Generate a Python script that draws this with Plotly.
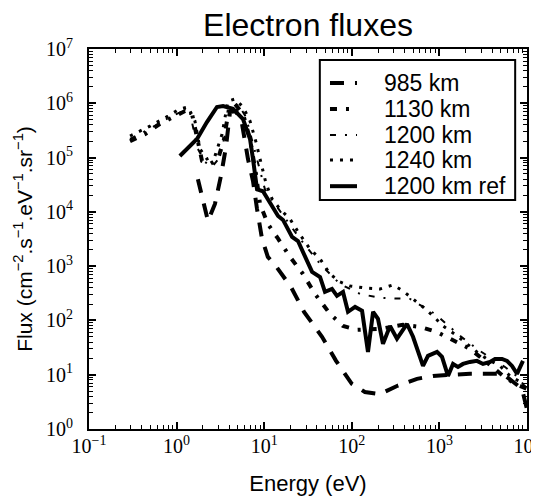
import plotly.graph_objects as go

# energies (eV) and fluxes for each altitude
e_985 = [1.75, 2.00, 2.28, 2.74, 3.21, 3.66, 4.07, 4.76, 5.58, 6.53, 7.45, 8.28, 9.44, 11.0, 13.3,
         20.2, 28.5, 45.7, 66.1, 100, 141, 210, 328, 555, 845, 2233, 5322, 6918, 8770, 10000]
f_985 = [4.0e4, 1.73e4, 6.8e3, 1.4e4, 4.6e4, 1.57e5, 6.9e5, 7.2e5, 4.2e5, 9.4e4, 3.7e4, 1.13e4, 3.2e3, 1.48e3, 1.05e3,
         414, 144, 50, 18.0, 6.8, 4.8, 4.4, 6.2, 8.4, 9.5, 10.4, 10.4, 7.4, 5.5, 2.3]

e_1130 = [0.294, 0.435, 0.647, 0.959, 1.25, 1.50, 1.75, 1.95, 2.40, 2.97, 3.48, 3.96, 4.64, 5.73, 6.89, 8.05, 8.95,
          11.0, 14.4, 19.7, 27.7, 38.0, 56.4, 79.4, 115, 210, 384, 601, 940, 1507, 2233, 3317, 5322, 7295, 10000]
f_1130 = [2.0e5, 2.7e5, 4.2e5, 5.8e5, 7.2e5, 6.35e5, 2.2e5, 8.7e4, 7.6e4, 9.4e4, 2.2e5, 7.9e5, 9.7e5, 6.35e5, 2.2e5, 5.0e4, 1.4e4,
          6.0e3, 3.2e3, 1.48e3, 718, 308, 132, 79, 67, 70, 83, 76, 61, 42, 30, 18.0, 9.5, 6.8, 5.5]

e_1200 = [0.294, 0.497, 0.841, 1.18, 1.42, 1.75, 2.11, 2.54, 3.13, 3.57, 4.07, 5.02, 6.19, 7.45, 8.73, 10.2,
          15.1, 25.6, 43.4, 73.3, 124, 210, 461, 891, 1718, 2904, 5610, 8318, 10000]
f_1200 = [2.2e5, 3.4e5, 5.6e5, 7.2e5, 6.6e5, 1.44e5, 8.3e4, 6.7e4, 1.03e5, 2.7e5, 8.55e5, 9.7e5, 5.6e5, 1.78e5, 6.2e4, 2.6e4,
          1.04e4, 3.2e3, 1.1e3, 470, 308, 260, 249, 132, 52, 27.4, 13.9, 8.4, 5.0]

e_1240 = [0.294, 0.497, 0.798, 1.09, 1.35, 1.62, 1.85, 2.22, 2.74, 3.30, 3.86, 4.64, 5.73, 6.89, 8.05, 9.19, 10.5, 12.3,
          15.1, 19.7, 24.3, 33.3, 43.4, 56.4, 73.3, 95.3, 141, 210, 295, 384, 500, 650, 845, 1100, 1589, 2065, 2683,
          3493, 4920, 6397, 8318, 10000]
f_1240 = [2.5e5, 3.8e5, 5.8e5, 7.9e5, 8.55e5, 4.7e5, 1.44e5, 9.4e4, 1.07e5, 2.7e5, 1.1e6, 1.2e6, 8.55e5, 4.7e5, 1.94e5, 7.6e4, 3.3e4, 1.73e4,
          1.13e4, 7.4e3, 4.3e3, 2.07e3, 1.36e3, 718, 512, 432, 397, 380, 451, 349, 249, 177, 121, 79, 52, 37, 26.3,
          19.5, 14.5, 9.5, 7.4, 5.5]

e_ref = [1.09, 1.71, 2.22, 2.89, 3.39, 4.40, 5.73, 6.89, 7.45, 8.28, 9.68, 14.4, 16.4, 20.8, 24.3, 35.2, 43.4, 49.4,
         59.4, 67.7, 79.4, 90.5, 109, 131, 153, 175, 199, 227, 273, 328, 427, 500, 650, 741, 940, 1071, 1254, 1430,
         1630, 1858, 2233, 2683, 3145, 3780, 4315, 5188, 5916, 6745, 7691, 8995]
f_ref = [1.07e5, 2.2e5, 4.5e5, 8.55e5, 8.9e5, 7.9e5, 5.1e5, 2.2e5, 9.4e4, 2.6e4, 2.4e4, 8.4e3, 7.1e3, 3.45e3, 2.9e3, 782, 632, 335,
         380, 283, 335, 144, 177, 150, 26.3, 144, 107, 37, 79, 46, 86, 50, 14.5, 22.2, 26.3, 21.3, 9.5, 15.8,
         13.9, 15.8, 17.2, 18.0, 15.8, 17.2, 19.5, 19.5, 18.0, 14.5, 10.4, 18.0]

x_ticks = [0.1, 1, 10, 100, 1000, 10000]
x_labels = ["10<sup>−1</sup>", "10<sup>0</sup>", "10<sup>1</sup>", "10<sup>2</sup>", "10<sup>3</sup>", "10<sup>4</sup>"]
y_ticks = [1, 10, 100, 1e3, 1e4, 1e5, 1e6, 1e7]
y_labels = ["10<sup>%d</sup>" % i for i in range(8)]

# name, x, y, line width, dash
series = [
    ("985 km", e_985, f_985, 4, "14px,11px"),
    ("1130 km", e_1130, f_1130, 4, "7px,9px,3px,9px"),
    ("1200 km", e_1200, f_1200, 2, "6px,9px,2px,9px"),
    ("1240 km", e_1240, f_1240, 3, "3px,7px"),
    ("1200 km ref", e_ref, f_ref, 4, "solid"),
]

fig = go.Figure()
for name, e, f, w, dash in series:
    fig.add_trace(go.Scatter(x=e, y=f, mode="lines", name=name, showlegend=False,
                             line=dict(color="black", width=w, dash=dash)))

# hand-made legend box (paper coordinates)
leg_rows = [0.9105, 0.842, 0.774, 0.708, 0.639]
shapes = [dict(type="rect", xref="paper", yref="paper", x0=0.527, x1=0.973, y0=0.6026, y1=0.971,
               line=dict(color="black", width=2), fillcolor="white", layer="above")]
annotations = []
for (name, e, f, w, dash), yy in zip(series, leg_rows):
    shapes.append(dict(type="line", xref="paper", yref="paper", x0=0.5502, x1=0.6119, y0=yy, y1=yy,
                       line=dict(color="black", width=w, dash=dash), layer="above"))
    annotations.append(dict(text=name, xref="paper", yref="paper", x=0.669, y=yy, xanchor="left",
                            yanchor="middle", showarrow=False,
                            font=dict(family="Liberation Sans", size=23, color="black")))

axis_common = dict(
    showgrid=False, zeroline=False, showline=True, linecolor="black", linewidth=2,
    mirror="ticks", ticks="inside", ticklen=7, tickwidth=1.5, tickcolor="black", automargin=False,
    tickfont=dict(family="Liberation Serif", size=20, color="black"),
    minor=dict(ticks="inside", ticklen=4, tickwidth=1, tickcolor="black", dtick="D1"),
)

fig.update_xaxes(type="log", range=[-1, 4], tickvals=x_ticks, ticktext=x_labels, ticklabelstandoff=-2,
                 ticklabeloverflow="allow",
                 title=dict(text="Energy (eV)", font=dict(family="Liberation Sans", size=22, color="black"), standoff=20),
                 **axis_common)
fig.update_yaxes(type="log", range=[0, 7], tickvals=y_ticks, ticktext=y_labels, ticklabelstandoff=10,
                 title=dict(text="Flux (cm<sup>−2</sup>.s<sup>−1</sup>.eV<sup>−1</sup>.sr<sup>−1</sup>)",
                            font=dict(family="Liberation Sans", size=21, color="black"), standoff=8),
                 **axis_common)

# page body adds an 8px offset, so the figure is sized to fit inside the window
fig.update_layout(
    width=531, height=491,
    margin=dict(l=81, r=12, t=41, b=70),
    paper_bgcolor="white", plot_bgcolor="white",
    title=dict(text="Electron fluxes", x=0.5, xref="paper", xanchor="center", y=0.965, yanchor="middle",
               font=dict(family="Liberation Sans", size=32, color="black")),
    shapes=shapes, annotations=annotations,
    showlegend=False,
)

fig.write_html("out.html")
